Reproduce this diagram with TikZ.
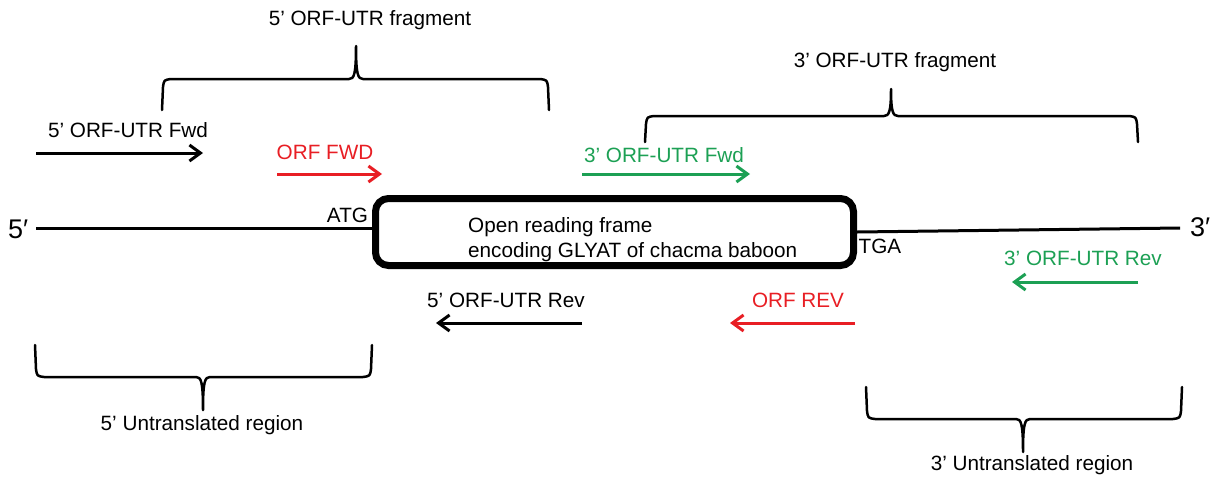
\documentclass[tikz,border=0pt]{standalone}
\usepackage{fontspec}
\setmainfont{Liberation Sans}
\usetikzlibrary{arrows.meta}
\definecolor{pred}{RGB}{232,30,36}
\definecolor{pgreen}{RGB}{28,160,84}
\tikzset{
  lbl/.style={font=\fontsize{20.7}{24}\selectfont, inner sep=0pt, anchor=base},
  lblw/.style={font=\fontsize{20.7}{24}\selectfont, inner sep=0pt, anchor=base west},
  endlbl/.style={font=\fontsize{27}{30}\selectfont, inner sep=0pt, anchor=base west},
  primer/.style={line width=3pt, -{Straight Barb[length=11pt,width=16pt]}},
  strand/.style={line width=3pt},
  bracepath/.style={line width=2.5pt, line join=round, line cap=round},
  orfbox/.style={draw, line width=7pt, rounded corners=13pt, minimum width=478pt, minimum height=67pt, inner sep=0pt},
}
% #1 left x, #2 right x, #3 tip x, #4 end y, #5 bar y, #6 tip y
\newcommand{\drawcurlybrace}[6]{%
  \pgfmathsetmacro{\bsgn}{(#4>#5) ? 1 : -1}%
  \draw[bracepath] (#1,#4) -- (#1+1,#5+8*\bsgn) .. controls (#1+2,#5+1*\bsgn) .. (#1+9,#5)
    -- (#3-7,#5) .. controls (#3-2,#5) and (#3,#5-4*\bsgn) .. (#3,#6)
    .. controls (#3,#5-4*\bsgn) and (#3+2,#5) .. (#3+7,#5)
    -- (#2-9,#5) .. controls (#2-2,#5+1*\bsgn) .. (#2-1,#5+8*\bsgn) -- (#2,#4);
}
\begin{document}
\begin{tikzpicture}[x=1pt,y=-1pt]
\useasboundingbox (0,0) rectangle (1225,482);

% braces
\drawcurlybrace{162}{549}{356}{110}{79}{46}
\drawcurlybrace{645}{1138}{891}{142}{116}{89}
\drawcurlybrace{35}{372}{203}{345}{377}{410}
\drawcurlybrace{866}{1182}{1023}{387}{419}{452}

% brace labels
\node[lbl] (frag5) at (370,25) {5’ ORF-UTR fragment};
\node[lbl] (frag3) at (895,67) {3’ ORF-UTR fragment};
\node[lbl] (utr5) at (202,430) {5’ Untranslated region};
\node[lbl] (utr3) at (1032,470) {3’ Untranslated region};

% ORF box and strand
\node[orfbox] (orf) at (614.5,232) {};
\node[lblw] (orft1) at (468,232) {Open reading frame};
\node[lblw] (orft2) at (468,257) {encoding GLYAT of chacma baboon};
\coordinate (s5) at (36,228);
\coordinate (s3) at (1180,228);
\draw[strand] (s5) -- (s5 -| orf.west);
\draw[strand] (orf.east) -- (s3);
\node[endlbl] (p5) at (8,238) {5′};
\node[endlbl] (p3) at (1190,236) {3′};
\node[lbl] (atg) at (347.5,222) {ATG};
\node[lbl] (tga) at (880,253) {TGA};

% primers
\node[lbl] (f5l) at (128,137) {5’ ORF-UTR Fwd};
\coordinate (f5a) at (36,153); \coordinate (f5b) at (203,153);
\draw[primer] (f5a) -- (f5b);

\node[lbl, text=pred] (ofl) at (325,159) {ORF FWD};
\coordinate (ofa) at (277,174); \coordinate (ofb) at (382,174);
\draw[primer, pred] (ofa) -- (ofb);

\node[lbl, text=pgreen] (f3l) at (664,162) {3’ ORF-UTR Fwd};
\coordinate (f3a) at (582,174); \coordinate (f3b) at (750,174);
\draw[primer, pgreen] (f3a) -- (f3b);

\node[lbl, text=pgreen] (r3l) at (1083,265) {3’ ORF-UTR Rev};
\coordinate (r3a) at (1138,282); \coordinate (r3b) at (1012,282);
\draw[primer, pgreen] (r3a) -- (r3b);

\node[lbl] (r5l) at (506,307) {5’ ORF-UTR Rev};
\coordinate (r5a) at (582,323); \coordinate (r5b) at (436,323);
\draw[primer] (r5a) -- (r5b);

\node[lbl, text=pred] (orl) at (798,307) {ORF REV};
\coordinate (ora) at (855,323); \coordinate (orb) at (730,323);
\draw[primer, pred] (ora) -- (orb);
\end{tikzpicture}
\end{document}
